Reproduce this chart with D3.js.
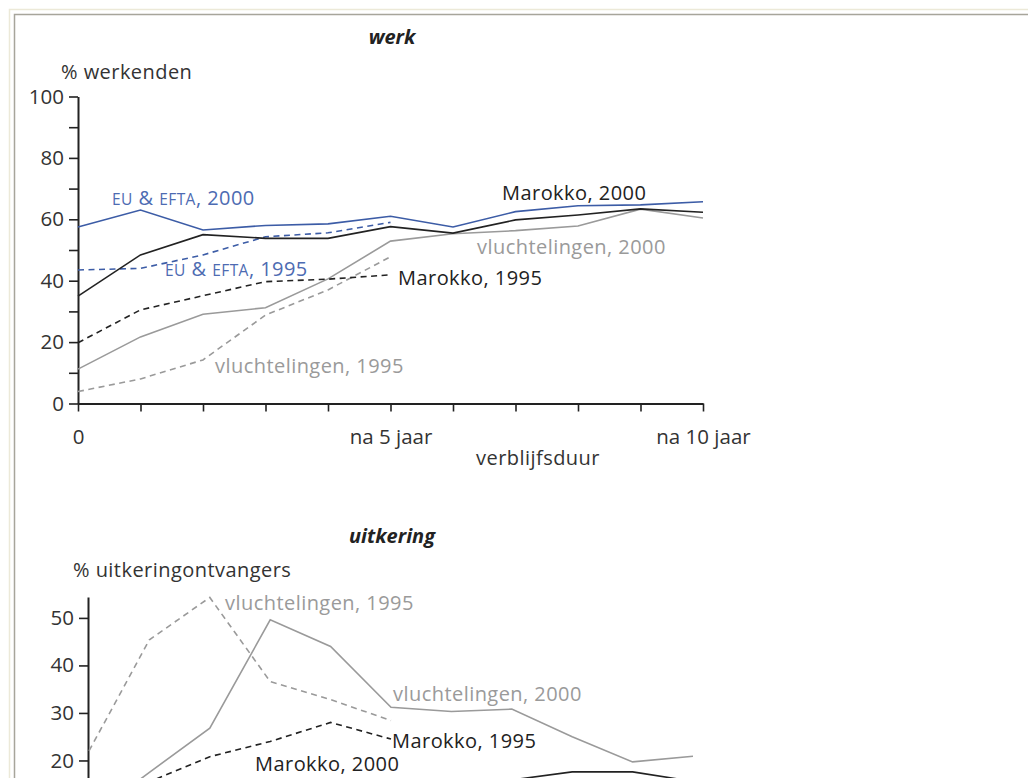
<!DOCTYPE html>
<meta charset="utf-8">
<title>werk en uitkering naar verblijfsduur</title>
<style>
body {
  margin: 0;
  background: #fff;
}
svg {
  display: block;
  font-family: "Open Sans", sans-serif;
}
.axis path {
  stroke: #222;
  stroke-width: 2;
}
.axis line {
  stroke: #222;
  stroke-width: 1.6;
}
.axis text {
  font-family: "Open Sans", sans-serif;
  font-size: 20.5px;
  fill: #333;
}
.lbl {
  font-size: 20px;
  letter-spacing: 0.45px;
}
.title {
  font-size: 20px;
  font-weight: bold;
  font-style: italic;
  fill: #222;
}
</style>
<body>
<script src="https://d3js.org/d3.v7.min.js"></script>
<script>

var width = 1028,
    height = 778;

// x: verblijfsduur in jaren
var years = d3.range(0, 11);
var xTickLabels = {0: "0", 5: "na 5 jaar", 10: "na 10 jaar"};

// werk (% werkenden), cohort 2000 over 10 jaar, cohort 1995 over 5 jaar
var euEfta2000 = [57.5, 63, 56.5, 58, 58.5, 61, 57.5, 62.5, 64.4, 64.7, 65.7];
var marokko2000 = [35, 48.4, 55, 53.8, 53.8, 57.6, 55.5, 59.8, 61.4, 63.4, 62.3];
var vlucht2000 = [11.2, 21.7, 29.1, 31.2, 40.6, 52.9, 55.3, 56.3, 57.8, 63.3, 60.4];
var euEfta1995 = [43.5, 44, 48.4, 54.3, 55.6, 59];
var marokko1995 = [19.8, 30.5, 35.1, 39.7, 40.5, 41.9];
var vlucht1995 = [3.9, 8, 14.2, 28.8, 37, 47.8];

// uitkering (% uitkeringontvangers)
var vlucht1995U = [22, 45.4, 54.3, 36.6, 32.8, 28.4];
var vlucht2000U = [8, 17.5, 26.8, 49.6, 44, 31.2, 30.3, 30.8, 25, 19.7, 20.9];
var marokko1995U = [10, 15.5, 20.8, 24, 28, 24.5];
var marokko2000U = [5, 8, 10, 12, 13, 14, 15, 15.9, 17.6, 17.6, 15.6];
var uTicks = [20, 30, 40, 50];

var blue = "#3c5ca6",
    blueText = "#4d6bb2",
    grey = "#9a9a9a",
    black = "#222";

var svg = d3.select("body").append("svg")
    .attr("width", width)
    .attr("height", height);

svg.append("rect")
    .attr("width", width)
    .attr("height", height)
    .attr("fill", "#fff");

// window frame
svg.append("rect")
    .attr("x", 9.5).attr("y", 9.5)
    .attr("width", width + 20).attr("height", height + 20)
    .attr("fill", "none")
    .attr("stroke", "#ece9d8")
    .attr("stroke-width", 1.5);
svg.append("rect")
    .attr("x", 14.5).attr("y", 14.5)
    .attr("width", width + 20).attr("height", height + 20)
    .attr("fill", "none")
    .attr("stroke", "#a7a59b")
    .attr("stroke-width", 1.5);

function drawLine(g, values, x, y, color, dash) {
  var line = d3.line()
      .x(function(d, i) { return x(i); })
      .y(function(d) { return y(d); });
  g.append("path")
      .datum(values)
      .attr("fill", "none")
      .attr("stroke", color)
      .attr("stroke-width", 1.6)
      .attr("stroke-dasharray", dash ? "6,4.5" : null)
      .attr("d", line);
}

function label(g, x, y, color, parts) {
  var t = g.append("text")
      .attr("class", "lbl")
      .attr("x", x)
      .attr("y", y)
      .attr("fill", color);
  parts.forEach(function(p) {
    var s = t.append("tspan").text(p[0]);
    if (p[1]) s.attr("font-size", p[1] + "px");
  });
}

// ---------- werk ----------
var xW = d3.scaleLinear().domain([0, 10]).range([78, 703]);
var yW = d3.scaleLinear().domain([0, 100]).range([403.5, 96.5]);

var gW = svg.append("g");

gW.append("text")
    .attr("class", "title")
    .attr("x", 392)
    .attr("y", 44)
    .attr("text-anchor", "middle")
    .text("werk");

gW.append("text")
    .attr("class", "lbl")
    .attr("x", 61)
    .attr("y", 79)
    .attr("fill", "#333")
    .text("% werkenden");

gW.append("g")
    .attr("class", "axis")
    .attr("transform", "translate(" + xW(0) + ",0)")
    .call(d3.axisLeft(yW)
        .tickValues(d3.range(0, 101, 10))
        .tickFormat(function(d) { return d % 20 === 0 ? d : ""; })
        .tickSize(9)
        .tickSizeOuter(0)
        .tickPadding(5));

gW.append("g")
    .attr("class", "axis")
    .attr("transform", "translate(0," + yW(0) + ")")
    .call(d3.axisBottom(xW)
        .tickValues(years)
        .tickFormat(function(d) { return xTickLabels[d] || ""; })
        .tickSize(8)
        .tickSizeOuter(0)
        .tickPadding(18));

gW.append("text")
    .attr("class", "lbl")
    .attr("x", 538)
    .attr("y", 465)
    .attr("text-anchor", "middle")
    .attr("fill", "#333")
    .text("verblijfsduur");

drawLine(gW, vlucht1995, xW, yW, grey, true);
drawLine(gW, vlucht2000, xW, yW, grey, false);
drawLine(gW, marokko1995, xW, yW, black, true);
drawLine(gW, euEfta1995, xW, yW, blue, true);
drawLine(gW, marokko2000, xW, yW, black, false);
drawLine(gW, euEfta2000, xW, yW, blue, false);

label(gW, 112, 205, blueText, [["EU", 15.5], [" & "], ["EFTA", 15.5], [", 2000"]]);
label(gW, 165, 276, blueText, [["EU", 15.5], [" & "], ["EFTA", 15.5], [", 1995"]]);
label(gW, 502, 200, black, [["Marokko, 2000"]]);
label(gW, 477, 254, grey, [["vluchtelingen, 2000"]]);
label(gW, 398, 285, black, [["Marokko, 1995"]]);
label(gW, 215, 373, grey, [["vluchtelingen, 1995"]]);

// ---------- uitkering ----------
var xU = d3.scaleLinear().domain([0, 10]).range([89, 693]);
var yU = d3.scaleLinear().domain([0, 54.4]).range([855.5, 597]);

var gU = svg.append("g");

gU.append("text")
    .attr("class", "title")
    .attr("x", 392)
    .attr("y", 543)
    .attr("text-anchor", "middle")
    .text("uitkering");

gU.append("text")
    .attr("class", "lbl")
    .attr("x", 73)
    .attr("y", 577)
    .attr("fill", "#333")
    .text("% uitkeringontvangers");

gU.append("g")
    .attr("class", "axis")
    .attr("transform", "translate(88,0)")
    .call(d3.axisLeft(yU)
        .tickValues(uTicks)
        .tickSize(9)
        .tickSizeOuter(0)
        .tickPadding(5));

drawLine(gU, marokko2000U, xU, yU, black, false);
drawLine(gU, marokko1995U, xU, yU, black, true);
drawLine(gU, vlucht2000U, xU, yU, grey, false);
drawLine(gU, vlucht1995U, xU, yU, grey, true);

label(gU, 225, 610, grey, [["vluchtelingen, 1995"]]);
label(gU, 393, 701, grey, [["vluchtelingen, 2000"]]);
label(gU, 392, 748, black, [["Marokko, 1995"]]);
label(gU, 255, 771, black, [["Marokko, 2000"]]);

</script>
